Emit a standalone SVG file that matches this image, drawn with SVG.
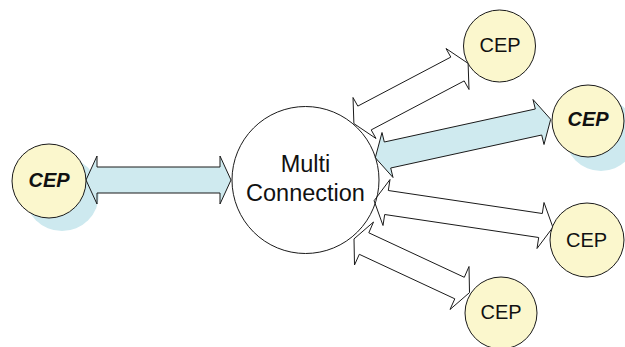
<svg xmlns="http://www.w3.org/2000/svg" width="625" height="347" viewBox="0 0 625 347">
<style>
.arw{stroke:#1a1a1a;stroke-width:1;stroke-linejoin:miter}
.white{fill:#ffffff}
.blue{fill:#cfeaef}
.cep{fill:#fbf7cd;stroke:#1a1a1a;stroke-width:1}
.shadow{fill:#cde9ef}
.t{font-family:"Liberation Sans",Arial,sans-serif;fill:#111;text-anchor:middle}
.plain{font-size:20px}
.bi{font-size:20px;font-weight:bold;font-style:italic}
.big{font-size:23.5px}
</style>
<rect width="625" height="347" fill="#ffffff"/>
<g id="shadows">
<circle class="shadow" cx="62" cy="194" r="37"/>
<circle class="shadow" cx="601" cy="135" r="36"/>
</g>
<g id="center-fill">
<circle cx="305.5" cy="180" r="73.5" fill="#ffffff"/>
</g>
<g id="connectors">
<polygon class="arw blue" points="86,180 97,156 97,167 220,167 220,156 231,180 220,204 220,193 97,193 97,204"/>
<polygon class="arw white" points="353.9,123.6 353,97.5 357.8,106.1 450.8,57.1 446,48.5 468.1,63.4 469,89.5 464.2,80.9 371.2,129.9 376,138.5"/>
<polygon class="arw blue" points="375.3,157.7 382,132.5 384.3,142 535.3,109 533,99.5 550.7,119.3 544,144.5 541.7,135 390.7,168 393,177.5"/>
<polygon class="arw white" points="374.1,200.7 390,179.5 388.3,190.5 542.3,213.5 544,202.5 552.9,227.3 537,248.5 538.7,237.5 384.7,214.5 383,225.5"/>
<polygon class="arw white" points="354,238.9 373.5,222 368.8,232.8 464.3,277.3 469,266.5 469.5,292.6 450,309.5 454.8,298.8 359.3,254.3 354.5,265"/>
</g>
<g id="multi-connection">
<circle cx="305.5" cy="180" r="73.5" fill="none" stroke="#1a1a1a" stroke-width="1"/>
<text class="t big" x="305.5" y="172">Multi</text>
<text class="t big" x="305.5" y="201">Connection</text>
</g>
<g id="cep-left">
<circle class="cep" cx="49" cy="181" r="37"/>
<text class="t bi" x="49" y="187">CEP</text>
</g>
<g id="cep-top">
<circle class="cep" cx="499.5" cy="46" r="36"/>
<text class="t plain" x="500" y="52">CEP</text>
</g>
<g id="cep-right-bold">
<circle class="cep" cx="588" cy="121" r="36"/>
<text class="t bi" x="588" y="126">CEP</text>
</g>
<g id="cep-right">
<circle class="cep" cx="587" cy="240" r="37"/>
<text class="t plain" x="586.5" y="247">CEP</text>
</g>
<g id="cep-bottom">
<circle class="cep" cx="501" cy="313" r="36"/>
<text class="t plain" x="501" y="319">CEP</text>
</g>
</svg>
